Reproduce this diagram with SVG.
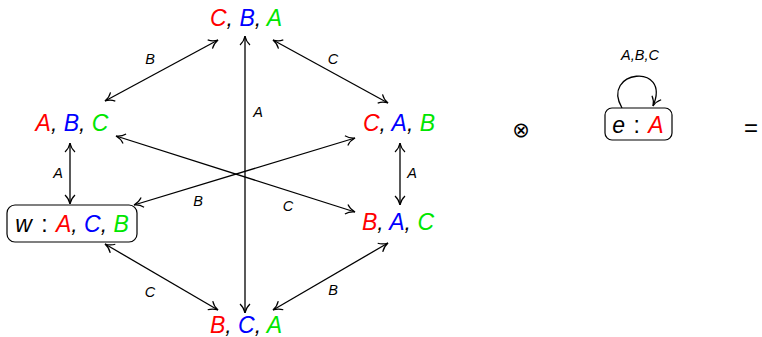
<svg xmlns="http://www.w3.org/2000/svg" width="762" height="337" viewBox="0 0 762 337">
<style>
.n{font-family:"Liberation Sans",Arial,sans-serif;font-style:italic;font-size:23px;text-anchor:middle}
.l{font-family:"Liberation Sans",Arial,sans-serif;font-style:italic;font-size:14.5px;text-anchor:middle}
.r{fill:#ff0000}.b{fill:#0000ff}.g{fill:#00e600}
.p{font-style:normal}
.e{fill:none;stroke:#000;stroke-width:1.3}
.box{fill:#fff;stroke:#000;stroke-width:1.2}
</style>
<defs>
<marker id="a" viewBox="-10 -7 12 14" markerWidth="12" markerHeight="14" refX="0" refY="0" orient="auto-start-reverse" markerUnits="userSpaceOnUse">
<path d="M-9,-5 C-6,-1.7 -2,-0.4 0,0 C-2,0.4 -6,1.7 -9,5" fill="none" stroke="#000" stroke-width="1.2"/>
</marker>
</defs>
<g id="connectors">
<line class="e" x1="105" y1="101" x2="218" y2="40" marker-start="url(#a)" marker-end="url(#a)"/>
<line class="e" x1="273" y1="40" x2="388" y2="103" marker-start="url(#a)" marker-end="url(#a)"/>
<line class="e" x1="245" y1="36" x2="245" y2="313" marker-start="url(#a)" marker-end="url(#a)"/>
<line class="e" x1="70" y1="143" x2="70" y2="204" marker-start="url(#a)" marker-end="url(#a)"/>
<line class="e" x1="400" y1="143" x2="400" y2="205" marker-start="url(#a)" marker-end="url(#a)"/>
<line class="e" x1="105" y1="244" x2="218" y2="310" marker-start="url(#a)" marker-end="url(#a)"/>
<line class="e" x1="388" y1="243" x2="273" y2="310" marker-start="url(#a)" marker-end="url(#a)"/>
<line class="e" x1="116" y1="136" x2="355" y2="212" marker-start="url(#a)" marker-end="url(#a)"/>
<line class="e" x1="355" y1="138" x2="134" y2="205" marker-start="url(#a)" marker-end="url(#a)"/>
<path class="e" d="M622,108 C600,70 672,62 653,106" marker-end="url(#a)"/>
<text class="l" x="150" y="64">B</text>
<text class="l" x="333" y="64">C</text>
<text class="l" x="258" y="117">A</text>
<text class="l" x="58" y="178">A</text>
<text class="l" x="412" y="178">A</text>
<text class="l" x="198" y="206">B</text>
<text class="l" x="288" y="211">C</text>
<text class="l" x="150" y="297">C</text>
<text class="l" x="333" y="295">B</text>
<text class="l" x="640" y="60">A,B,C</text>
</g>
<g id="n-CBA"><text class="n" x="246" y="26"><tspan class="r">C</tspan>, <tspan class="b">B</tspan>, <tspan class="g">A</tspan></text></g>
<g id="n-ABC"><text class="n" x="72" y="131"><tspan class="r">A</tspan>, <tspan class="b">B</tspan>, <tspan class="g">C</tspan></text></g>
<g id="n-CAB"><text class="n" x="399" y="131"><tspan class="r">C</tspan>, <tspan class="b">A</tspan>, <tspan class="g">B</tspan></text></g>
<g id="n-w">
<rect class="box" x="7" y="205" width="130" height="37" rx="8"/>
<text class="n" x="72" y="232">w<tspan class="p" dx="3"> : </tspan><tspan class="r" dx="2">A</tspan>, <tspan class="b">C</tspan>, <tspan class="g">B</tspan></text>
</g>
<g id="n-BAC"><text class="n" x="398" y="230"><tspan class="r">B</tspan>, <tspan class="b">A</tspan>, <tspan class="g">C</tspan></text></g>
<g id="n-BCA"><text class="n" x="246" y="333"><tspan class="r">B</tspan>, <tspan class="b">C</tspan>, <tspan class="g">A</tspan></text></g>
<g id="n-e">
<rect class="box" x="605" y="108" width="67" height="32" rx="7"/>
<text class="n" x="638" y="133">e<tspan class="p" dx="2"> : </tspan><tspan class="r" dx="2">A</tspan></text>
</g>
<g id="ops">
<text x="521" y="137" style="font-family:'DejaVu Sans',sans-serif;font-size:21px;text-anchor:middle">⊗</text>
<text x="751" y="136" style="font-family:'Liberation Sans',sans-serif;font-size:24px;text-anchor:middle">=</text>
</g>
</svg>
